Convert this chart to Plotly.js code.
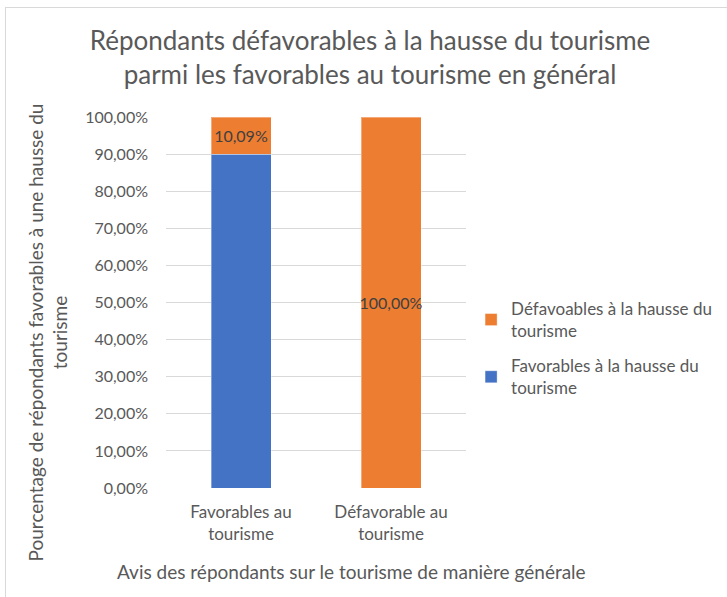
<!DOCTYPE html>
<html>
<head>
<meta charset="utf-8">
<script src="https://cdn.plot.ly/plotly-3.0.1.min.js"></script>
<style>
html,body{margin:0;padding:0;background:#fff;}
#frame{position:absolute;left:5px;top:7px;width:800px;height:700px;border-top:1px solid #d9d9d9;border-left:1px solid #d9d9d9;}
#chart{position:absolute;left:0;top:0;width:727px;height:597px;}
</style>
</head>
<body>
<div id="frame"></div>
<div id="chart"></div>
<script>
var categories = ["Favorables au<br>tourisme", "Défavorable au<br>tourisme"];
var favorablesHausse = [0.8991, 0];
var defavorablesHausse = [0.1009, 1.0];
var seriesNames = ["Favorables à la hausse du<br>tourisme", "Défavoables à la hausse du<br>tourisme"];
var tickValues = [0, 0.1, 0.2, 0.3, 0.4, 0.5, 0.6, 0.7, 0.8, 0.9, 1.0];

var FONT = "Lato, 'Open Sans', sans-serif";
var GRAY = "#595959";

var traces = [
  {
    type: "bar", x: categories, y: favorablesHausse, name: seriesNames[0],
    legendgroup: "fav", legendrank: 2,
    marker: {color: "#4472C4", line: {color: "rgba(255,255,255,0.35)", width: 1}},
    width: 0.4, hoverinfo: "none"
  },
  {
    type: "bar", x: categories, y: defavorablesHausse, name: seriesNames[1],
    legendgroup: "defav", legendrank: 1,
    marker: {color: "#ED7D31", line: {color: "rgba(255,255,255,0.35)", width: 1}},
    width: 0.4, hoverinfo: "none",
    texttemplate: "%{y:.2%}", textposition: "inside", insidetextanchor: "middle",
    textangle: 0, constraintext: "none",
    textfont: {color: "#404040", size: 16, family: FONT}
  }
];

var layout = {
  width: 727, height: 597,
  margin: {l: 166, r: 261, t: 117, b: 109},
  paper_bgcolor: "rgba(0,0,0,0)", plot_bgcolor: "rgba(0,0,0,0)",
  separators: ", ",
  barmode: "stack",
  font: {family: FONT, color: GRAY, size: 16},
  title: {
    text: "Répondants défavorables à la hausse du tourisme<br>parmi les favorables au tourisme en général",
    x: 0.509, xanchor: "center", xref: "container",
    y: 0.916, yanchor: "top", yref: "container",
    font: {family: FONT, size: 26, color: GRAY}
  },
  xaxis: {
    showgrid: false, zeroline: false, showline: false, ticks: "",
    tickfont: {size: 17, color: GRAY}, ticklabelstandoff: 12,
    fixedrange: true
  },
  yaxis: {
    range: [0, 1], tickvals: tickValues, tickformat: ".2%",
    showgrid: true, gridcolor: "#d9d9d9", gridwidth: 1,
    zeroline: false, showline: false, ticks: "",
    tickfont: {size: 16, color: GRAY}, ticklabelstandoff: 17,
    fixedrange: true
  },
  showlegend: true,
  legend: {
    xref: "container", yref: "container",
    x: 0.648, xanchor: "left", y: 0.5126, yanchor: "top",
    traceorder: "grouped",
    font: {size: 17, color: GRAY, family: FONT},
    itemwidth: 30, tracegroupgap: 10,
    bgcolor: "rgba(0,0,0,0)"
  },
  annotations: [
    {
      text: "Pourcentage de répondants favorables à une hausse du<br>tourisme",
      textangle: -90, xref: "paper", yref: "paper",
      x: -0.395, y: 0.418, xanchor: "center", yanchor: "middle",
      showarrow: false, font: {size: 19, color: GRAY, family: FONT}
    },
    {
      text: "Avis des répondants sur le tourisme de manière générale",
      xref: "paper", yref: "paper",
      x: 0.617, y: -0.226, xanchor: "center", yanchor: "middle",
      showarrow: false, font: {size: 19, color: GRAY, family: FONT}
    }
  ]
};

Plotly.newPlot("chart", traces, layout, {displayModeBar: false, staticPlot: true});
</script>
</body>
</html>
